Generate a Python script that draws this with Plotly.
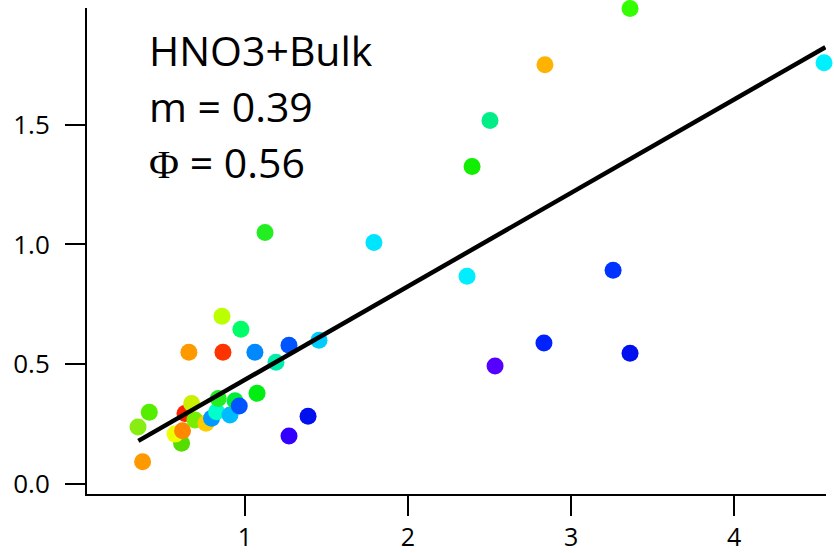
import plotly.graph_objects as go

# Measured ratio (x) vs. predicted ratio (y), coloured by sample
x_vals = [3.362, 2.840, 4.552, 2.503, 2.393, 1.123, 1.791, 2.362, 3.258,
          0.859, 0.975, 0.656, 0.865, 1.061, 1.270, 1.454, 1.190, 2.834,
          3.362, 2.534, 1.074, 1.387, 1.270,
          0.413, 0.344, 0.372, 0.611, 0.571, 0.617, 0.632, 0.673, 0.693,
          0.761, 0.795, 0.826, 0.836, 0.908, 0.939, 0.965]
y_vals = [1.985, 1.750, 1.758, 1.517, 1.325, 1.050, 1.008, 0.867, 0.892,
          0.700, 0.646, 0.550, 0.550, 0.550, 0.579, 0.600, 0.508, 0.588,
          0.546, 0.492, 0.379, 0.283, 0.200,
          0.299, 0.238, 0.093, 0.170, 0.208, 0.222, 0.294, 0.336, 0.267,
          0.253, 0.274, 0.301, 0.357, 0.288, 0.347, 0.325]
colors = ["#33ff00", "#ffb300", "#00f0ff", "#00ee88", "#11ee00", "#22ee22",
          "#00e5ff", "#00eeff", "#0033ff", "#bbff00", "#00ff66", "#ff9900",
          "#ff3300", "#0088ff", "#0055ff", "#00ccff", "#00eeaa", "#0022ff",
          "#0011ee", "#5500ff", "#00ee11", "#0011ee", "#3300ff",
          "#55ee00", "#88ee11", "#ff9900", "#55dd00", "#eeff00", "#ff8800",
          "#ff2200", "#ccee00", "#77ee00", "#ffcc00", "#0099ff", "#00ffcc",
          "#22ee22", "#00bbff", "#00ee33", "#0055ff"]

# Linear fit
slope = 0.39
intercept = 0.045
fit_x = [0.346, 4.56]
fit_y = [intercept + slope * v for v in fit_x]

x_ticks = [1, 2, 3, 4]
y_ticks = [0.0, 0.5, 1.0, 1.5]
y_ticklabels = ["0.0", "0.5", "1.0", "1.5"]

fig = go.Figure()
fig.add_trace(go.Scatter(
    x=x_vals, y=y_vals, mode="markers",
    marker=dict(size=17, color=colors, line=dict(width=0)),
    cliponaxis=False, showlegend=False,
))
fig.add_trace(go.Scatter(
    x=fit_x, y=fit_y, mode="lines",
    line=dict(color="black", width=4.5),
    cliponaxis=False, showlegend=False,
))

font_family = "Open Sans"
label_font = dict(family=font_family, size=41, color="black")
fig.add_annotation(x=0, y=1, xref="paper", yref="paper", xanchor="left",
                   yanchor="top", xshift=60, yshift=-12, showarrow=False,
                   text="HNO3+Bulk", font=label_font)
fig.add_annotation(x=0, y=1, xref="paper", yref="paper", xanchor="left",
                   yanchor="top", xshift=60, yshift=-68, showarrow=False,
                   text="m = 0.39", font=label_font)
fig.add_annotation(x=0, y=1, xref="paper", yref="paper", xanchor="left",
                   yanchor="top", xshift=60, yshift=-124, showarrow=False,
                   text="<span style='font-family:Liberation Serif'>\u03a6</span> = 0.56",
                   font=label_font)

fig.update_layout(
    width=834, height=553,
    margin=dict(l=87, r=8, t=8, b=59),
    paper_bgcolor="white", plot_bgcolor="white",
    font=dict(family=font_family, size=26, color="black"),
    xaxis=dict(
        range=[0.031, 4.564], tickvals=x_ticks, ticks="outside", ticklen=20,
        tickwidth=2, tickcolor="black", showline=True, linecolor="black",
        linewidth=2, showgrid=False, zeroline=False, ticklabelstandoff=0,
        tickfont=dict(size=25), automargin=False,
    ),
    yaxis=dict(
        range=[-0.042, 1.987], tickvals=y_ticks, ticktext=y_ticklabels,
        ticks="outside", ticklen=20, tickwidth=2, tickcolor="black",
        showline=True, linecolor="black", linewidth=2, showgrid=False,
        zeroline=False, ticklabelstandoff=10, tickfont=dict(size=26),
        automargin=False,
    ),
)

fig.write_html("out.html")
